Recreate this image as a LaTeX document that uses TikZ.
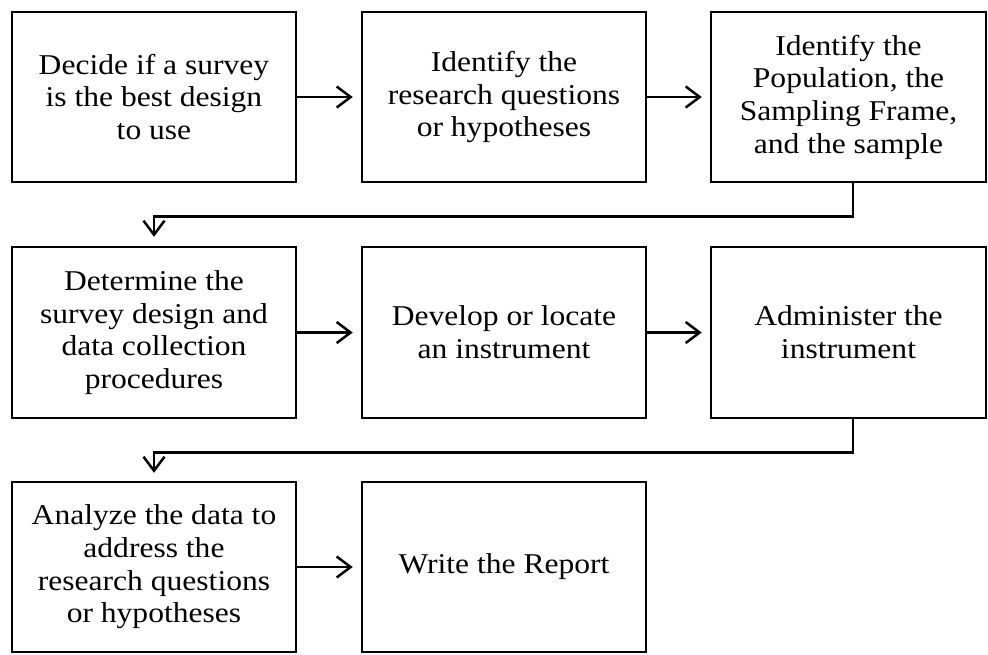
\documentclass[tikz,border=0pt]{standalone}
\usepackage{fontspec}
\setmainfont{Liberation Serif}[FakeStretch=1.1]
\usetikzlibrary{arrows.meta}
\begin{document}
\begin{tikzpicture}[x=1pt,y=-1pt,
  stepbox/.style={draw=black, line width=2.5pt, minimum width=284pt, minimum height=170pt,
    inner sep=0pt, align=center, font=\fontsize{28.7}{32.7}\selectfont},
  conn/.style={line width=2.5pt, -{Straight Barb[length=14pt,width=21pt]}}]
\useasboundingbox (0,0) rectangle (988,654);
% row 1
\node[stepbox] (b1) at (154,97) {Decide if a survey\\is the best design\\to use};
\node[stepbox] (b2) at (504,97) {Identify the\\research questions\\or hypotheses};
\node[stepbox, minimum width=275pt] (b3) at (848.5,97) {Identify the\\Population, the\\Sampling Frame,\\and the sample};
% row 2
\node[stepbox, minimum height=171pt] (b4) at (154,332.5) {Determine the\\survey design and\\data collection\\procedures};
\node[stepbox, minimum height=171pt] (b5) at (504,332.5) {Develop or locate\\an instrument};
\node[stepbox, minimum height=171pt, minimum width=275pt] (b6) at (848.5,332.5) {Administer the\\instrument};
% row 3
\node[stepbox] (b7) at (154,567) {Analyze the data to\\address the\\research questions\\or hypotheses};
\node[stepbox] (b8) at (504,567) {Write the Report};
% connectors
\draw[conn, shorten >=8pt] (b1) -- (b2);
\draw[conn, shorten >=8pt] (b2) -- (b3);
\draw[conn, shorten >=8pt] (b4) -- (b5);
\draw[conn, shorten >=8pt] (b5) -- (b6);
\draw[conn, shorten >=8pt] (b7) -- (b8);
\coordinate (c1) at ([xshift=4.5pt]b3.south);
\coordinate (c2) at ([xshift=4.5pt]b6.south);
\draw[conn, shorten >=9pt] (c1) -- ++(0,33) -| (b4.north);
\draw[conn, shorten >=8pt] (c2) -- ++(0,33) -| (b7.north);
\end{tikzpicture}
\end{document}
